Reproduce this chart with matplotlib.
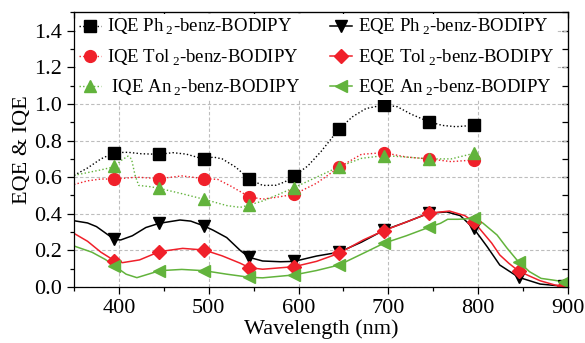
import numpy as np
import matplotlib.pyplot as plt
from matplotlib.ticker import MultipleLocator

plt.rcParams['font.family'] = ['Liberation Serif', 'DejaVu Serif']
plt.rcParams['mathtext.fontset'] = 'custom'
plt.rcParams['mathtext.rm'] = 'Liberation Serif'

# marker positions (nm)
iqe_wl = [395, 445, 495, 545, 595, 645, 695, 745, 795]
eqe_wl = [395, 445, 495, 545, 595, 645, 695, 745, 795, 845, 895]

# IQE markers
iqe_ph = [0.734, 0.725, 0.698, 0.590, 0.608, 0.863, 0.995, 0.903, 0.883]
iqe_tol = [0.590, 0.592, 0.592, 0.493, 0.506, 0.654, 0.734, 0.700, 0.694]
iqe_an = [0.660, 0.539, 0.479, 0.448, 0.543, 0.657, 0.718, 0.700, 0.730]

# EQE markers
eqe_ph = [0.260, 0.348, 0.333, 0.162, 0.140, 0.190, 0.310, 0.403, 0.320, 0.053, 0.004]
eqe_tol = [0.144, 0.193, 0.202, 0.106, 0.111, 0.184, 0.308, 0.403, 0.357, 0.087, 0.005]
eqe_an = [0.115, 0.089, 0.089, 0.053, 0.066, 0.120, 0.239, 0.326, 0.375, 0.138, 0.029]

# IQE dotted curves
iqe_ph_x = [350, 365, 380, 395, 410, 425, 445, 460, 475, 495, 505, 515, 530, 545,
            560, 575, 585, 595, 610, 625, 645, 660, 675, 695, 710, 725, 745, 760, 775, 795]
iqe_ph_y = [0.61, 0.65, 0.70, 0.734, 0.736, 0.728, 0.725, 0.734, 0.726, 0.698, 0.71, 0.70, 0.655, 0.59,
            0.555, 0.556, 0.575, 0.608, 0.66, 0.74, 0.863, 0.93, 0.975, 0.995, 0.985, 0.945, 0.903, 0.883, 0.876, 0.883]
iqe_tol_x = [350, 365, 380, 395, 420, 445, 470, 495, 510, 525, 545, 560, 575, 595,
             620, 645, 670, 695, 720, 745, 770, 795]
iqe_tol_y = [0.56, 0.58, 0.59, 0.59, 0.60, 0.592, 0.607, 0.592, 0.588, 0.55, 0.493, 0.48, 0.49, 0.506,
             0.567, 0.654, 0.725, 0.734, 0.71, 0.70, 0.685, 0.694]
iqe_an_x = [350, 365, 380, 395, 402, 410, 414, 418, 422, 435, 445, 470, 495, 520, 535, 545,
            560, 575, 595, 620, 645, 670, 695, 720, 745, 770, 795]
iqe_an_y = [0.61, 0.625, 0.64, 0.657, 0.69, 0.715, 0.70, 0.61, 0.555, 0.548, 0.539, 0.51, 0.479, 0.445, 0.435, 0.448,
            0.47, 0.50, 0.543, 0.60, 0.657, 0.703, 0.718, 0.71, 0.70, 0.70, 0.73]

# EQE solid curves
eqe_ph_x = [350, 365, 375, 385, 395, 402, 415, 430, 445, 468, 480, 495, 505, 520, 535, 545,
            560, 580, 595, 620, 645, 670, 695, 720, 745, 765, 780, 795, 810, 824, 845, 869, 895, 900]
eqe_ph_y = [0.362, 0.35, 0.33, 0.295, 0.26, 0.257, 0.28, 0.325, 0.348, 0.366, 0.36, 0.333, 0.31, 0.27, 0.20, 0.162,
            0.142, 0.138, 0.14, 0.169, 0.19, 0.245, 0.31, 0.355, 0.403, 0.41, 0.39, 0.32, 0.22, 0.12, 0.053, 0.016, 0.004, 0.004]
eqe_tol_x = [350, 365, 380, 395, 404, 423, 445, 471, 495, 515, 535, 545, 560, 595, 620, 645,
             672, 695, 720, 745, 768, 785, 795, 815, 824, 834, 845, 857, 869, 886, 900]
eqe_tol_y = [0.293, 0.25, 0.19, 0.144, 0.133, 0.148, 0.193, 0.211, 0.202, 0.17, 0.13, 0.106, 0.097, 0.111, 0.14, 0.184,
             0.257, 0.308, 0.355, 0.403, 0.415, 0.39, 0.357, 0.24, 0.175, 0.13, 0.087, 0.06, 0.034, 0.01, 0.004]
eqe_an_x = [350, 370, 385, 395, 408, 420, 438, 445, 470, 495, 520, 535, 545, 560, 595, 620, 645,
            672, 695, 720, 745, 758, 766, 778, 795, 805, 821, 832, 843, 857, 870, 883, 895, 900]
eqe_an_y = [0.224, 0.19, 0.15, 0.115, 0.07, 0.051, 0.078, 0.089, 0.096, 0.089, 0.07, 0.06, 0.053, 0.05, 0.066, 0.09, 0.12,
            0.184, 0.239, 0.28, 0.326, 0.348, 0.37, 0.37, 0.375, 0.35, 0.284, 0.213, 0.148, 0.084, 0.047, 0.038, 0.029, 0.025]

black = 'black'
red = '#f0202a'
green = '#62b33c'
dot = (0, (1, 1.6))

fig = plt.figure(figsize=(5.85, 3.43), dpi=100)
ax = fig.add_axes([0.1265, 0.1633, 0.8445, 0.8003])

# IQE
ax.plot(iqe_ph_x, iqe_ph_y, color=black, ls=dot, lw=1)
ax.plot(iqe_tol_x, iqe_tol_y, color=red, ls=dot, lw=1)
ax.plot(iqe_an_x, iqe_an_y, color=green, ls=dot, lw=1)
# EQE
ax.plot(eqe_ph_x, eqe_ph_y, color=black, lw=1.1)
ax.plot(eqe_tol_x, eqe_tol_y, color=red, lw=1.1)
ax.plot(eqe_an_x, eqe_an_y, color=green, lw=1.1)

ax.plot(iqe_wl, iqe_ph, ls='none', marker='s', ms=8, color=black)
ax.plot(eqe_wl, eqe_ph, ls='none', marker='v', ms=9, color=black)
ax.plot(iqe_wl, iqe_tol, ls='none', marker='o', ms=8.5, color=red)
ax.plot(eqe_wl, eqe_tol, ls='none', marker='D', ms=7, color=red)
ax.plot(iqe_wl, iqe_an, ls='none', marker='^', ms=9, color=green)
ax.plot(eqe_wl, eqe_an, ls='none', marker='<', ms=9, color=green)

# legend proxies
h = []
h.append(ax.plot([], [], color=black, ls=dot, lw=1, marker='s', ms=8, label='IQE Ph$\\,_{2}$-benz-BODIPY')[0])
h.append(ax.plot([], [], color=red, ls=dot, lw=1, marker='o', ms=8.5, label='IQE Tol$\\,_{2}$-benz-BODIPY')[0])
h.append(ax.plot([], [], color=green, ls=dot, lw=1, marker='^', ms=9, label=' IQE An$\\,_{2}$-benz-BODIPY')[0])
h.append(ax.plot([], [], color=black, lw=1.1, marker='v', ms=9, label='EQE Ph$\\,_{2}$-benz-BODIPY')[0])
h.append(ax.plot([], [], color=red, lw=1.1, marker='D', ms=7, label='EQE Tol$\\,_{2}$-benz-BODIPY')[0])
h.append(ax.plot([], [], color=green, lw=1.1, marker='<', ms=9, label='EQE An$\\,_{2}$-benz-BODIPY')[0])
leg = ax.legend(handles=h, loc='upper left', bbox_to_anchor=(0.0, 1.0), ncol=2, fontsize=13.5,
                frameon=True, facecolor='white', edgecolor='none', framealpha=1,
                handlelength=1.2, handletextpad=0.3, columnspacing=1.6, labelspacing=0.52,
                borderpad=0.15, borderaxespad=0.1, fancybox=False)
leg.set_zorder(5)

ax.set_xlim(350, 900)
ax.set_ylim(0, 1.5)
ax.xaxis.set_major_locator(MultipleLocator(100))
ax.xaxis.set_minor_locator(MultipleLocator(50))
ax.yaxis.set_major_locator(MultipleLocator(0.2))
ax.yaxis.set_minor_locator(MultipleLocator(0.1))
ax.yaxis.set_major_formatter(plt.FuncFormatter(lambda v, p: '%.1f' % v))
ax.set_axisbelow(True)
ax.grid(True, which='major', color='#bdbdbd', ls=(0, (3, 2)), lw=0.8)

ax.tick_params(which='major', direction='out', length=5, width=0.9, labelsize=16)
ax.tick_params(which='minor', direction='out', length=3, width=0.9)
for s in ax.spines.values():
    s.set_linewidth(0.9)

sec_y = ax.secondary_yaxis('right')
sec_y.yaxis.set_major_locator(MultipleLocator(0.2))
sec_y.yaxis.set_minor_locator(MultipleLocator(0.1))
sec_y.tick_params(which='both', direction='in', length=4, width=0.9, labelright=False)
sec_x = ax.secondary_xaxis('top')
sec_x.xaxis.set_major_locator(MultipleLocator(100))
sec_x.xaxis.set_minor_locator(MultipleLocator(50))
sec_x.tick_params(which='both', direction='in', length=4, width=0.9, labeltop=False)

ax.set_xlabel('Wavelength (nm)', fontsize=16, labelpad=1)
ax.set_ylabel('EQE & IQE', fontsize=16, labelpad=2)

fig.savefig('out.png', dpi=100)
